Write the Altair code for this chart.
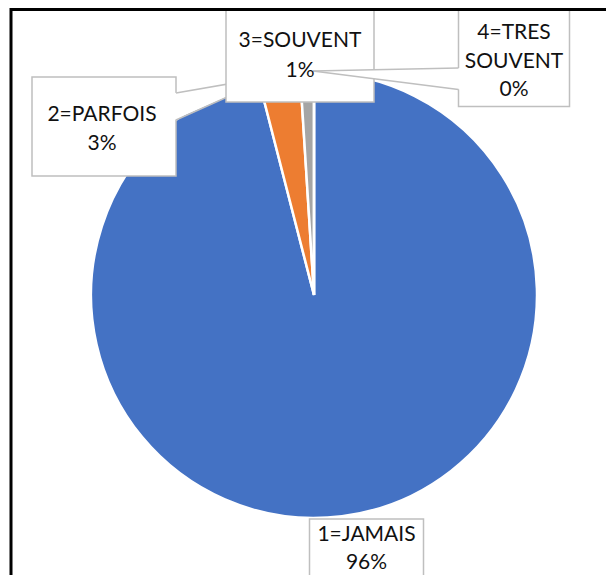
import altair as alt
import pandas as pd

# ---- data ----
CATEGORIES = ["1=JAMAIS", "2=PARFOIS", "3=SOUVENT", "4=TRES SOUVENT"]
VALUES = [96, 3, 1, 0]
COLORS = ["#4472C4", "#ED7D31", "#A5A5A5", "#FFC000"]

# ---- layout (chart pixel coordinates, page minus 8px margin) ----
OFF = 8
PIE_CX, PIE_CY, PIE_R = 314 - OFF, 295 - OFF, 223
BOX_X = [309.5, 32, 226, 458.5]
BOX_X2 = [423.5, 176, 374, 569.5]
BOX_Y = [519, 77, -5, 10]
BOX_Y2 = [600, 176, 102, 106.5]
LABEL_WRAP = [False, False, False, True]
TEXT_CX = [366.5, 102, 300, 514]
TEXT_BASE0 = [541, 121, 47, 39]
LINE_H = [28, 29, 30, 28.5]
# callout pointers: (base x, base y top, base y bottom, tip x, tip y)
WEDGES = {1: (176, 93, 120, 274, 76), 3: (458.5, 68, 89.5, 313, 71)}

W, H = 598, 567
total = sum(VALUES)

pie_df = pd.DataFrame({"cat": CATEGORIES, "value": VALUES, "order": list(range(len(VALUES)))})

pie = alt.Chart(pie_df).mark_arc(
    outerRadius=PIE_R, stroke="white", strokeWidth=2.5
).encode(
    theta=alt.Theta("value:Q", stack=True),
    color=alt.Color("cat:N", scale=alt.Scale(domain=CATEGORIES, range=COLORS), legend=None),
    order=alt.Order("order:Q"),
    x=alt.value(PIE_CX),
    y=alt.value(PIE_CY),
)

def box_layer(idxs):
    df = pd.DataFrame({
        "x": [BOX_X[i] - OFF for i in idxs],
        "x2": [BOX_X2[i] - OFF for i in idxs],
        "y": [BOX_Y[i] - OFF for i in idxs],
        "y2": [BOX_Y2[i] - OFF for i in idxs],
    })
    return alt.Chart(df).mark_rect(fill="white", stroke="#BFBFBF", strokeWidth=1.5).encode(
        x=alt.X("x:Q", scale=None), x2="x2:Q",
        y=alt.Y("y:Q", scale=None), y2="y2:Q",
    )

def wedge_layers(i):
    bx, by1, by2, tx, ty = WEDGES[i]
    sign = -1 if tx > bx else 1
    inner = bx + sign * 1.5
    area_df = pd.DataFrame({
        "x": [inner - OFF, tx - OFF],
        "y": [by1 - OFF, ty - OFF],
        "y2": [by2 - OFF, ty - OFF],
    })
    area = alt.Chart(area_df).mark_area(fill="white", opacity=1).encode(
        x=alt.X("x:Q", scale=None),
        y=alt.Y("y:Q", scale=None), y2="y2:Q",
    )
    line_df = pd.DataFrame({
        "x": [bx - OFF, bx - OFF],
        "y": [by1 - OFF, by2 - OFF],
        "x2": [tx - OFF, tx - OFF],
        "y2": [ty - OFF, ty - OFF],
    })
    lines = alt.Chart(line_df).mark_rule(stroke="#BFBFBF", strokeWidth=1.5).encode(
        x=alt.X("x:Q", scale=None), x2="x2:Q",
        y=alt.Y("y:Q", scale=None), y2="y2:Q",
    )
    return [area, lines]

rows = []
for i, (cat, v) in enumerate(zip(CATEGORIES, VALUES)):
    pct = f"{round(v / total * 100)}%"
    lines = (cat.split(" ") if LABEL_WRAP[i] else [cat]) + [pct]
    for k, t in enumerate(lines):
        rows.append({"t": t, "x": TEXT_CX[i] - OFF, "y": TEXT_BASE0[i] + k * LINE_H[i] - OFF})
text_df = pd.DataFrame(rows)
texts = alt.Chart(text_df).mark_text(
    font="Lato", fontSize=21, color="#111111", align="center", baseline="alphabetic"
).encode(
    x=alt.X("x:Q", scale=None),
    y=alt.Y("y:Q", scale=None),
    text="t:N",
)

frame_top = alt.Chart(pd.DataFrame({"a": [0]})).mark_rule(color="black", strokeWidth=3).encode(
    x=alt.value(2), x2=alt.value(W), y=alt.value(1.5)
)
frame_left = alt.Chart(pd.DataFrame({"a": [0]})).mark_rule(color="black", strokeWidth=3).encode(
    x=alt.value(3), y=alt.value(0), y2=alt.value(H)
)

layers = [pie, box_layer([0, 1])] + wedge_layers(1) + [box_layer([2, 3])] + wedge_layers(3) + [texts, frame_top, frame_left]

chart = alt.layer(*layers).properties(
    width=W, height=H, padding=0, autosize=alt.AutoSizeParams(type="none"), background="white"
).configure_view(stroke=None)

chart.save("out.html", embed_options={"renderer": "svg", "actions": False})
